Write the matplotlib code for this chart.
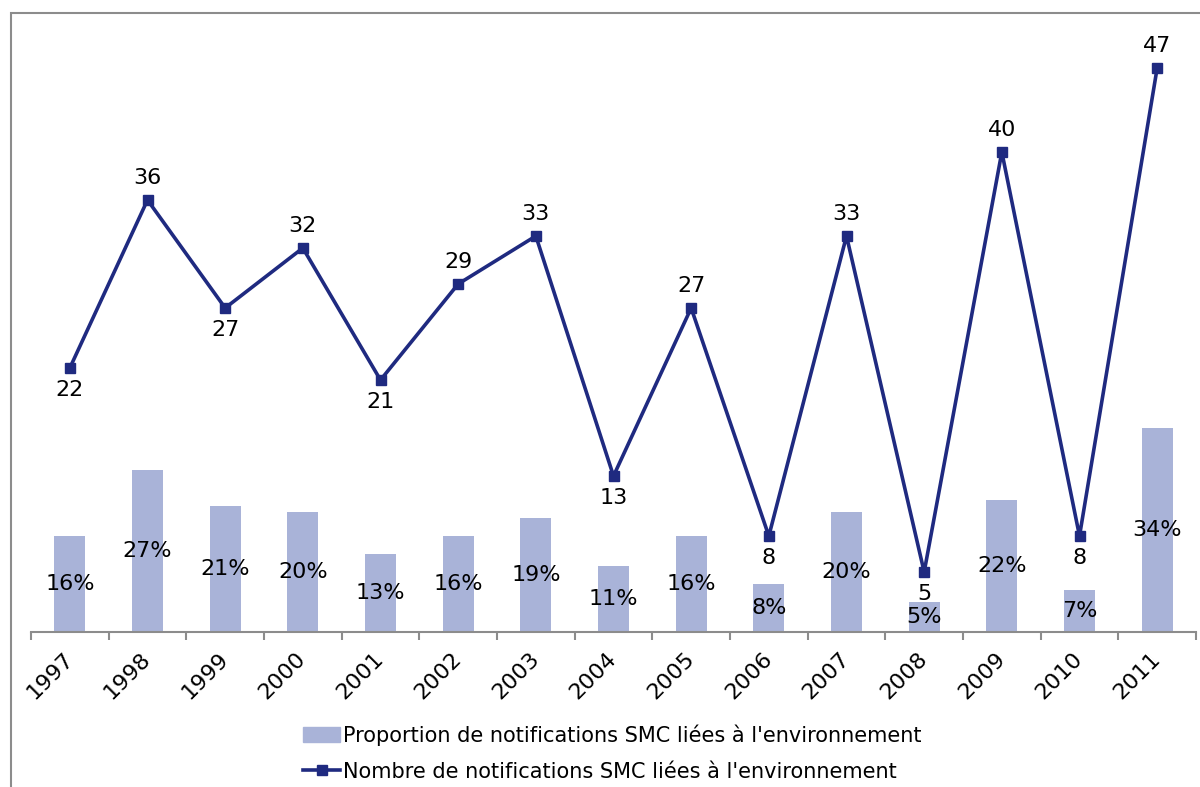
import matplotlib
matplotlib.use("Agg")
import matplotlib.pyplot as plt
from matplotlib.patches import Rectangle
from matplotlib.lines import Line2D
import numpy as np

years = ["1997", "1998", "1999", "2000", "2001", "2002", "2003", "2004",
         "2005", "2006", "2007", "2008", "2009", "2010", "2011"]
proportion = [16, 27, 21, 20, 13, 16, 19, 11, 16, 8, 20, 5, 22, 7, 34]
nombre = [22, 36, 27, 32, 21, 29, 33, 13, 27, 8, 33, 5, 40, 8, 47]
label_pos = ["below", "above", "below", "above", "below", "above", "above", "below",
             "above", "below", "above", "below", "above", "below", "above"]

bar_color = "#A9B3D8"
line_color = "#1F2A80"
fs = 16

plt.rcParams["font.family"] = ["DejaVu Sans"]

fig = plt.figure(figsize=(12, 7.87), dpi=100)
# outer chart-area border
fig.patches.append(Rectangle((11 / 1200, -0.1), 1.2, 1 - 13 / 787 + 0.1,
                             transform=fig.transFigure, fill=False,
                             edgecolor="#8C8C8C", linewidth=1.5))

ax2 = fig.add_axes([31 / 1200, 1 - 632 / 787, (1196 - 31) / 1200, 600 / 787])
ax = ax2.twinx()

x = np.arange(len(years))
ax2.bar(x, proportion, width=0.4, color=bar_color, zorder=2)
ax2.set_ylim(0, 100)
ax2.set_xlim(-0.5, len(years) - 0.5)

for xi, v in zip(x, proportion):
    ax2.text(xi, v / 2, f"{v}%", ha="center", va="center", fontsize=fs, color="black")

ax.plot(x, nombre, color=line_color, linewidth=2.6, marker="s", markersize=6.5,
        markerfacecolor=line_color, markeredgecolor=line_color, zorder=3)
ax.set_ylim(0, 50)
for xi, v, p in zip(x, nombre, label_pos):
    if p == "above":
        ax.annotate(str(v), (xi, v), xytext=(0, 9), textcoords="offset points",
                    ha="center", va="bottom", fontsize=fs)
    else:
        ax.annotate(str(v), (xi, v), xytext=(0, -9), textcoords="offset points",
                    ha="center", va="top", fontsize=fs)

for a in (ax, ax2):
    for s in ["top", "right", "left"]:
        a.spines[s].set_visible(False)
    a.set_yticks([])
ax.spines["bottom"].set_visible(False)
ax2.spines["bottom"].set_color("#8C8C8C")
ax2.spines["bottom"].set_linewidth(1.5)

ax2.set_xticks(x)
ax2.set_xticklabels(years, rotation=45, ha="right", va="center",
                    rotation_mode="anchor", fontsize=fs)
ax2.tick_params(axis="x", which="major", length=0, pad=17)
ax2.set_xticks(np.arange(len(years) + 1) - 0.5, minor=True)
ax2.tick_params(axis="x", which="minor", length=6, width=1.5, color="#8C8C8C",
                direction="out")

handles = [Rectangle((0, 0), 1, 1, color=bar_color),
           Line2D([0], [0], color=line_color, linewidth=2.6, marker="s",
                  markersize=6.5)]
labels = ["Proportion de notifications SMC liées à l'environnement",
          "Nombre de notifications SMC liées à l'environnement"]
fig.legend(handles, labels, loc="center", bbox_to_anchor=(612 / 1200, 1 - 753 / 787),
           ncol=1, frameon=False, fontsize=15, handlelength=1.8, handletextpad=0.1,
           labelspacing=0.75, alignment="left")

fig.savefig("out.png", dpi=100)
